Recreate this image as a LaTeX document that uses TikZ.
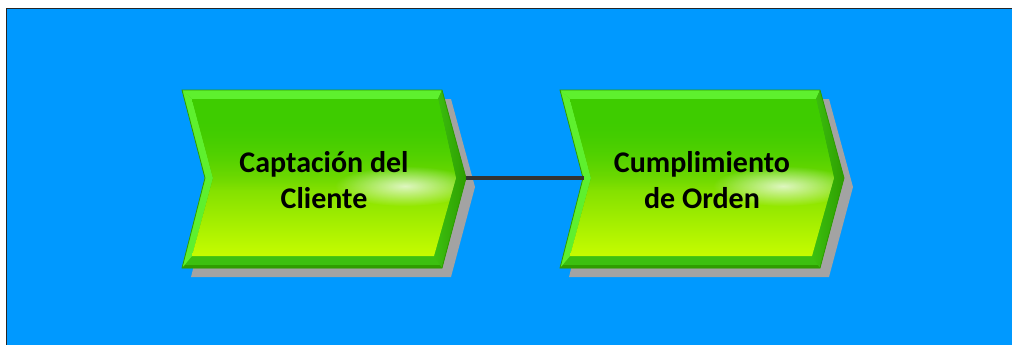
\documentclass[tikz,border=0pt]{standalone}
\usepackage{fontspec}
\setmainfont{Carlito}
\usetikzlibrary{fadings}
\tikzfading[name=glowfade, inner color=transparent!0, outer color=transparent!100]
\tikzfading[name=topfade, top color=transparent!0, bottom color=transparent!100]
\definecolor{bgblue}{HTML}{0099FF}
\definecolor{bandlight}{HTML}{5EF02E}
\definecolor{bandmid}{HTML}{3CC010}
\definecolor{banddark}{HTML}{2E9E00}
\definecolor{edgegreen}{HTML}{2E9A00}
\definecolor{fillTop}{HTML}{3ECC00}
\definecolor{fillMid}{HTML}{78DC00}
\definecolor{fillBot}{HTML}{C6FC00}
\definecolor{shadowgray}{HTML}{A3A3A3}
\definecolor{linkgray}{HTML}{333333}
\tikzset{
  labeltext/.style={font=\bfseries\fontsize{30}{36}\selectfont, align=center, text=black},
  connector/.style={draw=linkgray, line width=3.5pt},
}
\newcommand{\procshape}[2]{%
  \begin{scope}[xshift=#1]
    \fill[shadowgray] (191,99) -- (451,99) -- (475,187) -- (451,277) -- (191,277) -- (214,187) -- cycle;
    \fill[bandmid]
      (182,90) -- (442,90) -- (466,178) -- (442,268) -- (182,268) -- (205,178) -- cycle;
    \fill[bandlight] (182,90) -- (442,90) -- (438,99) -- (192,99) -- cycle;
    \fill[bandlight] (182,90) -- (192,99) -- (213,178) -- (192,256) -- (182,268) -- (205,178) -- cycle;
    \fill[banddark] (182,268) -- (185,265) -- (443,265) -- (442,268) -- cycle;
    \shade[left color=bandmid, right color=banddark]
      (442,90) -- (466,178) -- (442,268) -- (434,256) -- (456,178) -- (438,99) -- cycle;
    \begin{scope}
      \clip (192,99) -- (438,99) -- (456,178) -- (434,256) -- (192,256) -- (213,178) -- cycle;
      \shade[top color=fillTop, bottom color=fillBot, middle color=fillMid]
        (180,99) rectangle (470,256);
      \fill[fillTop, path fading=topfade] (180,120) rectangle (470,190);
      \fill[fillTop] (180,99) rectangle (470,121);
      \fill[white, path fading=glowfade, fill opacity=0.75] (405,186) ellipse (70 and 20);
    \end{scope}
    \draw[edgegreen, line width=0.8pt, line join=miter]
      (182,90) -- (442,90) -- (466,178) -- (442,268) -- (182,268) -- (205,178) -- cycle;
  \end{scope}
}
\begin{document}
\begin{tikzpicture}[x=1pt,y=-1pt]
  \useasboundingbox (0,0) rectangle (1012,345);
  \fill[white] (0,0) rectangle (1012,345);
  \fill[bgblue] (6,8) rectangle (1012,345);
  \draw[black!85, line width=1.2pt] (6.5,345) -- (6.5,8.5) -- (1012,8.5);
  \procshape{0pt}{a}
  \procshape{378pt}{b}
  \node[labeltext] (capt) at (324,180) {Captación del\\Cliente};
  \node[labeltext] (cump) at (702,180) {Cumplimiento\\de Orden};
  \coordinate (tipA) at (466,178);
  \coordinate (notchB) at (584,178);
  \draw[connector] (tipA) -- (notchB);
\end{tikzpicture}
\end{document}
